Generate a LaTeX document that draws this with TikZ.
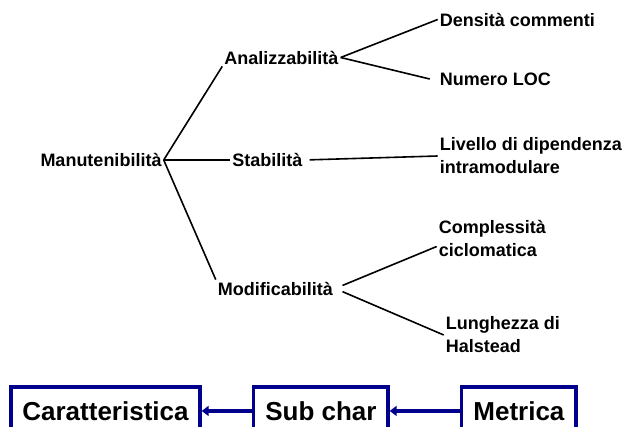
\documentclass[tikz,border=0pt]{standalone}
\usepackage{fontspec}
\setmainfont{Liberation Sans}
\usepackage{tikz}
\usetikzlibrary{positioning,arrows.meta}

\definecolor{boxblue}{RGB}{0,0,140}

\begin{document}
\begin{tikzpicture}[
item/.style={font=\bfseries\fontsize{18}{23}\selectfont, inner sep=2pt, align=left},
link/.style={line width=1.6pt, black},
level/.style={draw=boxblue, line width=3.2pt, font=\bfseries\fontsize{26}{30}\selectfont, inner xsep=11.5pt, minimum height=48pt},
back/.style={draw=boxblue, line width=3.2pt, -{Triangle[length=7pt,width=10pt]}}
]
\useasboundingbox (-101pt,-267pt) rectangle (527pt,160pt);
%Nodes
\node[item]      (man)                                                    {Manutenibilità};
\node[item]      (ana)    [right of=man, xshift=152pt, yshift=102.5pt]    {Analizzabilità};
\node[item]      (stab)   [right of=man, xshift=138pt]                    {Stabilità};
\node[item]      (mod)    [right of=man, xshift=146pt, yshift=-128.5pt]   {Modificabilità};
\node[item]      (dens)   [right of=ana, xshift=207.5pt, yshift=38pt]     {Densità commenti};
\node[item]      (nloc)   [right of=ana, xshift=185.5pt, yshift=-21.5pt]  {Numero LOC};
\node[item]      (liv)    [right of=stab, xshift=235pt, yshift=4pt]       {Livello di dipendenza\\intramodulare};
\node[item]      (compl)  [right of=mod, xshift=188.5pt, yshift=50pt]     {Complessità\\ciclomatica};
\node[item]      (lung)   [right of=mod, xshift=199pt, yshift=-46.5pt]    {Lunghezza di\\Halstead};
%Legend
\node[level]     (car)    [below of=man, xshift=4.5pt, yshift=-222.5pt]   {Caratteristica};
\node[level]     (sub)    [right of=car, xshift=187pt]                    {Sub char};
\node[level]     (met)    [right of=sub, xshift=169.5pt]                  {Metrica};
%Lines
\draw[link] (man.east) -- (ana.south west);
\draw[link] (man.east) -- (stab.west);
\draw[link] (man.east) -- (mod.north west);
\draw[link] (ana.east) -- (dens.west);
\draw[link] (ana.east) -- ([xshift=-8pt]nloc.west);
\draw[link, shorten <=5pt] (stab.east) -- (liv.west);
\draw[link, shorten <=8pt] (mod.east) -- ([yshift=-8pt]compl.west);
\draw[link, shorten <=8pt] (mod.east) -- (lung.west);
\draw[back] (sub.west) -- (car.east);
\draw[back] (met.west) -- (sub.east);
\end{tikzpicture}
\end{document}
